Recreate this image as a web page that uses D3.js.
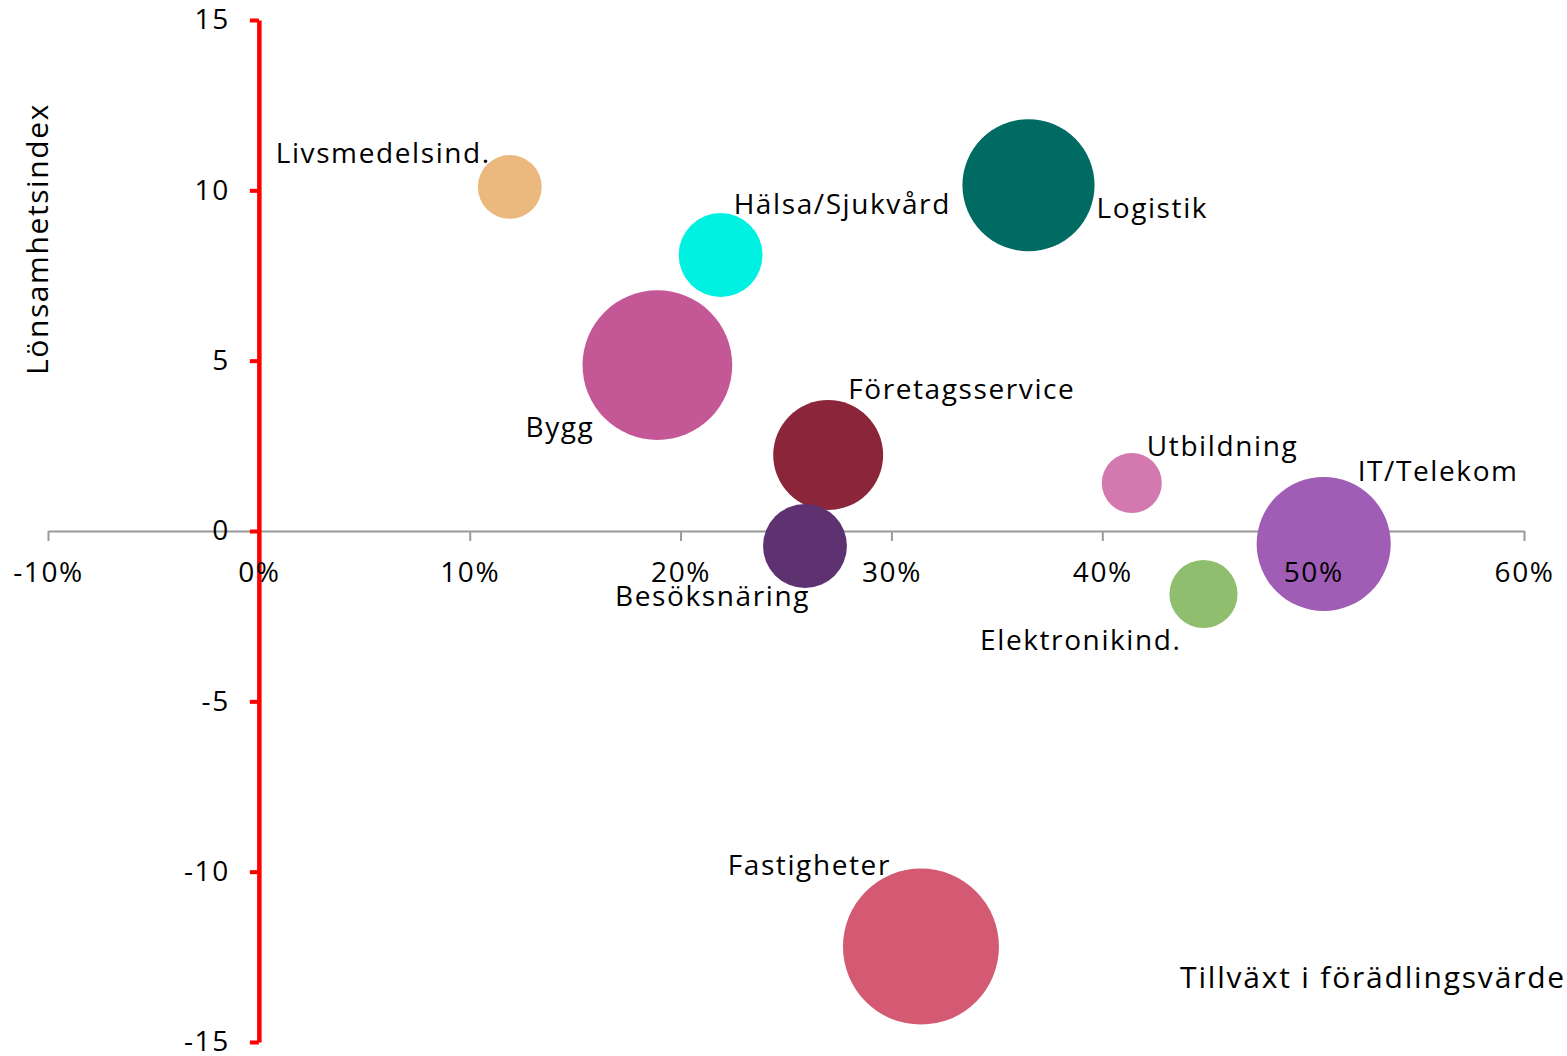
<!DOCTYPE html>
<html>
<head>
<meta charset="utf-8">
<script src="https://cdn.jsdelivr.net/npm/d3@7"></script>
<style>
  body { margin: 0; background: #fff; }
  svg text { font-family: "Open Sans", sans-serif; fill: #000; }
</style>
</head>
<body>
<div id="chart"></div>
<script>
// ==================== données ====================//
const branscher = ["Livsmedelsind.", "Hälsa/Sjukvård", "Logistik", "Bygg", "Företagsservice",
    "Utbildning", "IT/Telekom", "Besöksnäring", "Elektronikind.", "Fastigheter"];
const tillvaxt = [0.119, 0.219, 0.365, 0.189, 0.270, 0.414, 0.505, 0.259, 0.448, 0.314];
const lonsamhet = [10.1, 8.1, 10.15, 4.87, 2.23, 1.41, -0.38, -0.44, -1.85, -12.2];
const storlek = [10.2, 17.6, 43.6, 56.0, 30.2, 9.0, 44.9, 17.6, 11.6, 60.8];
const farger = ["#EBB97D", "#00F0E2", "#006B63", "#C45897", "#8B253A",
    "#D479AF", "#A05DB5", "#5E3270", "#8FBE6E", "#D35A72"];
const xTicks = [-0.1, 0, 0.1, 0.2, 0.3, 0.4, 0.5, 0.6];
const yTicks = [-15, -10, -5, 0, 5, 10, 15];

// placement des étiquettes (relatif au centre de la bulle)
const etiquettes = [
    { dx: -19, dy: -24, anchor: "end" },
    { dx: 13, dy: -41, anchor: "start" },
    { dx: 68, dy: 33, anchor: "start" },
    { dx: -63, dy: 72, anchor: "end" },
    { dx: 20, dy: -56, anchor: "start" },
    { dx: 15, dy: -27, anchor: "start" },
    { dx: 34, dy: -63, anchor: "start" },
    { dx: 5, dy: 60, anchor: "end" },
    { dx: -22, dy: 56, anchor: "end" },
    { dx: -30, dy: -72, anchor: "end" }
];

const data = branscher.map((b, i) => ({
    namn: b, x: tillvaxt[i], y: lonsamhet[i], s: storlek[i], color: farger[i], lab: etiquettes[i]
}));

// ==================== svg ====================//
const width = 1567;
const height = 1056;
const fontSize = 28;
const spacing = "1.6px";

const svg = d3.select("#chart")
    .append("svg")
    .attr("width", width)
    .attr("height", height);

const x = d3.scaleLinear().domain([-0.1, 0.6]).range([48, 1524]);
const y = d3.scaleLinear().domain([-15, 15]).range([1042, 20]);
const r = d3.scaleSqrt().domain([0, d3.max(storlek)]).range([0, 78]);

// format avec trait d'union au lieu du signe moins
const fmtPct = d => d3.format(".0%")(d).replace("−", "-");
const fmtNum = d => String(d);

// axe X (lignes) sous les bulles
const xAxisLines = svg.append("g")
    .attr("transform", `translate(0,${y(0)})`)
    .call(d3.axisBottom(x).tickValues(xTicks).tickSize(10).tickSizeOuter(0).tickFormat(""));
xAxisLines.select(".domain").attr("stroke", "#999").attr("stroke-width", 2);
xAxisLines.selectAll(".tick line").attr("stroke", "#999").attr("stroke-width", 2);

// bulles
svg.append("g")
    .selectAll("circle")
    .data(data)
    .enter()
    .append("circle")
    .attr("cx", d => x(d.x))
    .attr("cy", d => y(d.y))
    .attr("r", d => r(d.s))
    .attr("fill", d => d.color);

// axe Y rouge
const yAxis = svg.append("g")
    .attr("transform", `translate(${x(0)},0)`)
    .call(d3.axisLeft(y).tickValues(yTicks).tickSize(9).tickSizeOuter(0).tickPadding(20).tickFormat(fmtNum));
yAxis.select(".domain").attr("stroke", "#FF0000").attr("stroke-width", 4.5);
yAxis.selectAll(".tick line").attr("stroke", "#FF0000").attr("stroke-width", 4);
yAxis.selectAll(".tick text")
    .attr("font-size", fontSize)
    .style("font-family", "'Open Sans', sans-serif")
    .style("letter-spacing", spacing)
    .attr("fill", "#000");

// étiquettes de l'axe X au-dessus des bulles
const xAxisText = svg.append("g")
    .attr("transform", `translate(0,${y(0)})`)
    .call(d3.axisBottom(x).tickValues(xTicks).tickSize(0).tickPadding(31).tickFormat(fmtPct));
xAxisText.select(".domain").remove();
xAxisText.selectAll(".tick text")
    .attr("font-size", fontSize)
    .style("font-family", "'Open Sans', sans-serif")
    .style("letter-spacing", spacing)
    .attr("fill", "#000");

// noms des bulles
svg.append("g")
    .selectAll("text")
    .data(data)
    .enter()
    .append("text")
    .attr("x", d => x(d.x) + d.lab.dx)
    .attr("y", d => y(d.y) + d.lab.dy)
    .attr("text-anchor", d => d.lab.anchor)
    .attr("font-size", fontSize)
    .style("letter-spacing", spacing)
    .text(d => d.namn);

// titres des axes
svg.append("text")
    .attr("x", 1566)
    .attr("y", 988)
    .attr("text-anchor", "end")
    .attr("font-size", 30)
    .style("letter-spacing", "1.8px")
    .text("Tillväxt i förädlingsvärde");

svg.append("text")
    .attr("transform", "translate(48,239) rotate(-90)")
    .attr("text-anchor", "middle")
    .attr("font-size", 30)
    .style("letter-spacing", spacing)
    .text("Lönsamhetsindex");
</script>
</body>
</html>
